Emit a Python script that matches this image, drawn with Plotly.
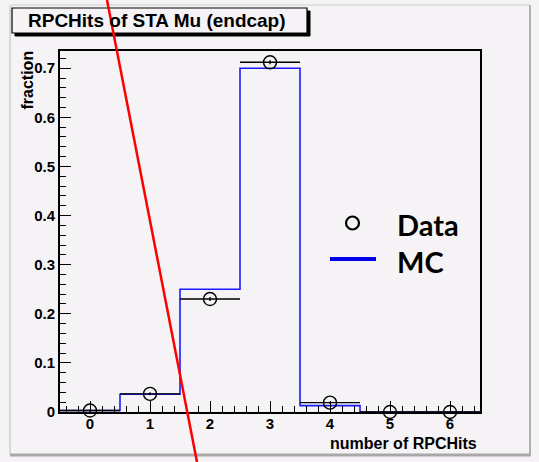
import plotly.graph_objects as go

# ---- data ----
bins = [0, 1, 2, 3, 4, 5, 6]
bin_edges = [-0.5, 0.5, 1.5, 2.5, 3.5, 4.5, 5.5, 6.5]
mc_fraction = [0.003, 0.036, 0.250, 0.700, 0.013, 0.0, 0.0]
data_fraction = [0.003, 0.037, 0.230, 0.712, 0.019, 0.0, 0.0]
data_xerr = [0.5, 0.5, 0.5, 0.5, 0.5, 0.5, 0.5]
data_yerr = [0.002, 0.003, 0.004, 0.004, 0.002, 0.0, 0.0]
y_ticks = [0, 0.1, 0.2, 0.3, 0.4, 0.5, 0.6, 0.7]
y_ticklabels = ["0", "0.1", "0.2", "0.3", "0.4", "0.5", "0.6", "0.7"]
x_ticks = [0, 1, 2, 3, 4, 5, 6]

BG = "#f6f3f6"
FONT = "Liberation Sans, Arial, Helvetica, sans-serif"

W, H = 539, 462
L, R, T, B = 60, 59, 51, 50
pw, ph = W - L - R, H - T - B


def px(x):
    return (x - L) / pw


def py(y):
    return (H - B - y) / ph


fig = go.Figure()

# MC step histogram
mc_y = mc_fraction + [mc_fraction[-1]]
fig.add_trace(go.Scatter(
    x=bin_edges, y=mc_y, mode="lines", line_shape="hv",
    line=dict(color="#1a1aff", width=1.6), showlegend=False, hoverinfo="skip"))

# Data points
fig.add_trace(go.Scatter(
    x=bins, y=data_fraction, mode="markers", cliponaxis=False,
    marker=dict(symbol="circle-open", size=13, color="black", line=dict(width=1.4, color="black")),
    error_x=dict(type="data", array=data_xerr, color="black", thickness=1.4, width=0),
    error_y=dict(type="data", array=data_yerr, color="black", thickness=1.4, width=0),
    showlegend=False))

shapes = []
annotations = []

# canvas frame
shapes.append(dict(type="line", xref="paper", yref="paper", x0=px(10), x1=px(530), y0=py(5), y1=py(5),
                   line=dict(color="#e0e0e0", width=2)))
shapes.append(dict(type="line", xref="paper", yref="paper", x0=px(10), x1=px(10), y0=py(5), y1=py(454),
                   line=dict(color="#d8d8d8", width=2)))
shapes.append(dict(type="line", xref="paper", yref="paper", x0=px(10), x1=px(531), y0=py(455), y1=py(455),
                   line=dict(color="#a8a8a8", width=3)))
shapes.append(dict(type="line", xref="paper", yref="paper", x0=px(530), x1=px(530), y0=py(5), y1=py(455),
                   line=dict(color="#b0b0b0", width=2)))

# title box with shadow
shapes.append(dict(type="rect", xref="paper", yref="paper", x0=px(15), x1=px(310), y0=py(36), y1=py(11),
                   line=dict(color="black", width=1), fillcolor="black", layer="above"))
shapes.append(dict(type="rect", xref="paper", yref="paper", x0=px(12), x1=px(307), y0=py(33), y1=py(8),
                   line=dict(color="black", width=1.2), fillcolor=BG, layer="above"))
annotations.append(dict(text="<b>RPCHits of STA Mu (endcap)</b>", xref="paper", yref="paper",
                        x=px(26), y=py(20.5), xanchor="left", yanchor="middle", showarrow=False,
                        font=dict(family=FONT, size=19, color="black")))

# axis titles
annotations.append(dict(text="<b>fraction</b>", xref="paper", yref="paper", x=px(27), y=py(49),
                        xanchor="center", yanchor="top", textangle=-90, showarrow=False,
                        font=dict(family=FONT, size=16, color="black")))
annotations.append(dict(text="<b>number of RPCHits</b>", xref="paper", yref="paper", x=px(479), y=py(443),
                        xanchor="right", yanchor="middle", showarrow=False,
                        font=dict(family=FONT, size=16, color="black")))

# legend
shapes.append(dict(type="circle", xref="paper", yref="paper", x0=px(346), x1=px(359), y0=py(229.5), y1=py(216.5),
                   line=dict(color="black", width=2.2), fillcolor="rgba(0,0,0,0)", layer="above"))
annotations.append(dict(text="<b>Data</b>", xref="paper", yref="paper", x=px(395), y=py(224),
                        xanchor="left", yanchor="middle", showarrow=False,
                        font=dict(family="Lato, sans-serif", size=29, color="black")))
shapes.append(dict(type="line", xref="paper", yref="paper", x0=px(330), x1=px(376), y0=py(259), y1=py(259),
                   line=dict(color="#0000ee", width=4), layer="above"))
annotations.append(dict(text="<b>MC</b>", xref="paper", yref="paper", x=px(395), y=py(261),
                        xanchor="left", yanchor="middle", showarrow=False,
                        font=dict(family="Lato, sans-serif", size=29, color="black")))

# red overlay line
shapes.append(dict(type="line", xref="paper", yref="paper", x0=px(107), x1=px(197), y0=py(0), y1=py(462),
                   line=dict(color="#ff0000", width=2.5), layer="above"))

fig.update_layout(
    width=W, height=H,
    margin=dict(l=L, r=R, t=T, b=B),
    paper_bgcolor=BG, plot_bgcolor=BG,
    shapes=shapes, annotations=annotations,
    showlegend=False,
    xaxis=dict(range=[-0.5, 6.5], tickvals=x_ticks, ticks="inside", ticklen=11, tickwidth=1.3,
               tickcolor="black", showgrid=False, zeroline=False, showline=True, linecolor="black",
               linewidth=1.8, mirror=True, ticklabelstandoff=-3,
               tickfont=dict(family=FONT, size=15, color="black", weight="bold"),
               minor=dict(ticks="inside", ticklen=6, dtick=0.2, tick0=0, tickcolor="black", tickwidth=1.2,
                          showgrid=False)),
    yaxis=dict(range=[0, 0.735], tickvals=y_ticks, ticktext=y_ticklabels, ticks="inside", ticklen=11,
               tickwidth=1.3, tickcolor="black", showgrid=False, zeroline=False, showline=True,
               linecolor="black", linewidth=1.8, mirror=True,
               tickfont=dict(family=FONT, size=15, color="black", weight="bold"),
               minor=dict(ticks="inside", ticklen=6, dtick=0.02, tick0=0, tickcolor="black", tickwidth=1.2,
                          showgrid=False)),
)

fig.write_html("out.html")
